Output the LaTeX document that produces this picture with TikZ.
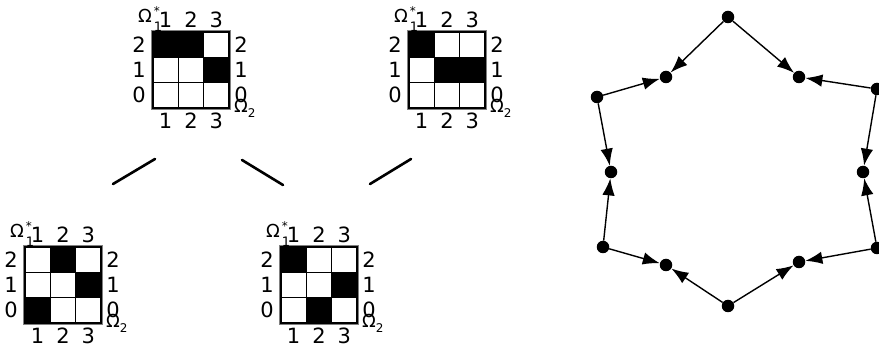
\documentclass[tikz,border=0pt]{standalone}
\usepackage{fontspec}
\setmainfont{DejaVu Sans}
\usetikzlibrary{arrows.meta}
\tikzset{
  lab/.style={inner sep=0pt, font=\fontsize{21}{25}\selectfont},
  omlab/.style={inner sep=0pt, anchor=base west, font=\fontsize{18}{22}\selectfont},
  cellline/.style={draw=black, line width=0.8pt},
  gridframe/.style={draw=black, line width=1.2pt, minimum size=76pt, inner sep=0pt},
  frameout/.style={draw=gray, line width=1.4pt},
  link/.style={line width=2.6pt, line cap=round},
  dot/.style={circle, fill=black, minimum size=12.5pt, inner sep=0pt},
  arr/.style={line width=1.4pt, -{Latex[length=17pt,width=12.5pt]}}
}
\newcommand\cs{25.333}
\newcommand\mygrid[4]{%
  \begin{scope}[shift={(#2,#3)}]
    \foreach \c/\r in {#4}
      \fill[black] ({(\c-1)*\cs},{(2-\r)*\cs}) rectangle ++(\cs,\cs);
    \foreach \k in {1,2} {
      \draw[cellline] ({\k*\cs},0) -- ({\k*\cs},76);
      \draw[cellline] (0,{\k*\cs}) -- (76,{\k*\cs});
    }
    \draw[frameout] (-1.6,-1.6) rectangle (77.6,77.6);
    \node[gridframe] (#1) at (38,38) {};
    \foreach \i in {1,2,3} {
      \node[lab] (#1-t\i) at ({(\i-0.5)*\cs},-12) {\i};
      \node[lab] (#1-b\i) at ({(\i-0.5)*\cs},89) {\i};
    }
    \foreach \r in {0,1,2} {
      \node[lab] (#1-l\r) at (-14,{(2-\r+0.5)*\cs}) {\r};
      \node[lab] (#1-r\r) at (88,{(2-\r+0.5)*\cs}) {\r};
    }
    \node[omlab] (#1-om1) at (-15,-9) {Ω\kern2pt\makebox[0pt][l]{\raisebox{7pt}{\fontsize{12}{12}\selectfont *}}\raisebox{-9pt}{\fontsize{13}{13}\selectfont 1}};
    \node[omlab] (#1-om2) at (81,81) {Ω\raisebox{-5pt}{\fontsize{12}{12}\selectfont 2}};
  \end{scope}}
\begin{document}
\begin{tikzpicture}[x=1pt,y=-1pt]
  \useasboundingbox (0,0) rectangle (879,347);
  \fill[white] (0,0) rectangle (879,347);
  % grids
  \mygrid{A}{153}{32}{1/2,2/2,3/1}
  \mygrid{B}{409}{32}{1/2,2/1,3/1}
  \mygrid{C}{25}{247}{2/2,3/1,1/0}
  \mygrid{D}{281}{247}{1/2,3/1,2/0}
  % links
  \coordinate (l1a) at (113,184); \coordinate (l1b) at (155,159);
  \coordinate (l2a) at (242,160); \coordinate (l2b) at (283,185);
  \coordinate (l3a) at (370,184); \coordinate (l3b) at (411,159);
  \draw[link] (l1a) -- (l1b);
  \draw[link] (l2a) -- (l2b);
  \draw[link] (l3a) -- (l3b);
  % graph
  \node[dot] (t)  at (728,17) {};
  \node[dot] (ul) at (666,77) {};
  \node[dot] (ur) at (799,77) {};
  \node[dot] (fl) at (597,97) {};
  \node[dot] (fr) at (877,89) {};
  \node[dot] (ml) at (611,172) {};
  \node[dot] (mr) at (863,172) {};
  \node[dot] (gl) at (603,247) {};
  \node[dot] (gr) at (877,248) {};
  \node[dot] (ll) at (666,265) {};
  \node[dot] (lr) at (799,262) {};
  \node[dot] (b)  at (728,306) {};
  \draw[arr] (t) -- (ul);
  \draw[arr] (t) -- (ur);
  \draw[arr] (fl) -- (ul);
  \draw[arr] (fr) -- (ur);
  \draw[arr] (fl) -- (ml);
  \draw[arr] (gl) -- (ml);
  \draw[arr] (fr) -- (mr);
  \draw[arr] (gr) -- (mr);
  \draw[arr] (gl) -- (ll);
  \draw[arr] (b) -- (ll);
  \draw[arr] (b) -- (lr);
  \draw[arr] (gr) -- (lr);
\end{tikzpicture}
\end{document}
